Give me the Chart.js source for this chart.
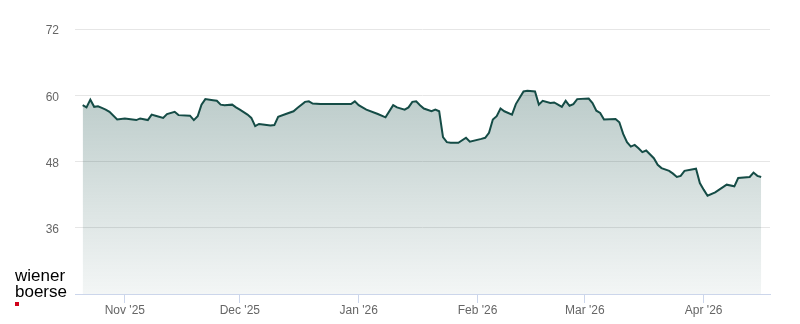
<!DOCTYPE html>
<html>
<head>
<meta charset="utf-8">
<script src="https://cdn.jsdelivr.net/npm/chart.js@4/dist/chart.umd.min.js"></script>
<style>
    body { margin: 0; background: #fff; }
    #wrap { position: relative; width: 800px; height: 324px; }
    #logo { position: absolute; left: 15px; top: 268px; font-family: "Liberation Sans", Arial, sans-serif; font-size: 17px; line-height: 16px; color: #000; }
    #logo .dot { width: 4px; height: 4px; background: #d0021b; margin-top: 2px; }
</style>
</head>
<body>
<div id="wrap">
    <canvas id="kursChart" width="800" height="324"></canvas>
    <div id="logo">wiener<br>boerse<div class="dot"></div></div>
</div>
<script>
// Datenpunkte (Schlusskurse)
const fechas = [
    '2025-10-21','2025-10-22','2025-10-23','2025-10-24','2025-10-25','2025-10-26','2025-10-27','2025-10-28','2025-10-30',
    '2025-11-01','2025-11-02','2025-11-04','2025-11-05','2025-11-07','2025-11-08','2025-11-09','2025-11-11','2025-11-12',
    '2025-11-14','2025-11-15','2025-11-18','2025-11-19','2025-11-20','2025-11-21','2025-11-22','2025-11-24','2025-11-25',
    '2025-11-26','2025-11-27','2025-11-29','2025-11-30',
    '2025-12-01','2025-12-03','2025-12-04','2025-12-05','2025-12-06','2025-12-07','2025-12-09','2025-12-10','2025-12-11',
    '2025-12-13','2025-12-15','2025-12-16','2025-12-18','2025-12-19','2025-12-20','2025-12-22','2025-12-30','2025-12-31',
    '2026-01-01','2026-01-03','2026-01-06','2026-01-08','2026-01-10','2026-01-11','2026-01-13','2026-01-14','2026-01-15',
    '2026-01-16','2026-01-17','2026-01-18','2026-01-20','2026-01-21','2026-01-22','2026-01-23','2026-01-24','2026-01-25',
    '2026-01-27','2026-01-29','2026-01-30',
    '2026-02-02','2026-02-03','2026-02-04','2026-02-05','2026-02-06','2026-02-07','2026-02-08','2026-02-10','2026-02-11',
    '2026-02-13','2026-02-14','2026-02-16','2026-02-17','2026-02-18','2026-02-20','2026-02-21','2026-02-22','2026-02-23',
    '2026-02-24','2026-02-25','2026-02-26','2026-02-27',
    '2026-03-02','2026-03-03','2026-03-04','2026-03-05','2026-03-06','2026-03-09','2026-03-10','2026-03-11','2026-03-12',
    '2026-03-13','2026-03-14','2026-03-15','2026-03-16','2026-03-17','2026-03-19','2026-03-20','2026-03-21','2026-03-23',
    '2026-03-24','2026-03-25','2026-03-26','2026-03-27','2026-03-30','2026-03-31',
    '2026-04-01','2026-04-02','2026-04-04','2026-04-07','2026-04-09','2026-04-10','2026-04-13','2026-04-14','2026-04-15',
    '2026-04-16'
];
const kurse = [
    58.2, 57.8, 59.2, 57.9, 58.0, 57.7, 57.4, 57.0, 55.6,
    55.8, 55.7, 55.5, 55.8, 55.5, 56.5, 56.3, 55.9, 56.6,
    57.0, 56.4, 56.3, 55.5, 56.2, 58.3, 59.3, 59.1, 59.0,
    58.3, 58.2, 58.3, 57.8,
    57.4, 56.5, 55.9, 54.4, 54.8, 54.7, 54.5, 54.6, 56.1,
    56.6, 57.1, 57.7, 58.8, 58.9, 58.5, 58.4, 58.4, 58.9,
    58.2, 57.4, 56.6, 56.0, 58.2, 57.8, 57.4, 57.8, 58.8,
    58.9, 58.2, 57.6, 57.1, 57.4, 57.1, 52.4, 51.5, 51.4,
    51.4, 52.3, 51.6,
    52.1, 52.3, 53.2, 55.6, 56.2, 57.6, 57.1, 56.5, 58.4,
    60.7, 60.8, 60.7, 58.3, 59.0, 58.6, 58.7, 58.3, 57.9,
    59.0, 58.1, 58.4, 59.3,
    59.4, 58.6, 57.2, 56.8, 55.6, 55.7, 55.1, 53.0, 51.5,
    50.7, 51.0, 50.4, 49.7, 50.0, 48.6, 47.4, 46.8, 46.3,
    45.8, 45.2, 45.4, 46.3, 46.7, 44.1,
    42.9, 41.8, 42.4, 43.8, 43.5, 45.0, 45.2, 46.0, 45.4,
    45.2
];

// Achsenbeschriftungen
const mesesFechas = ['2025-11-01', '2025-12-01', '2026-01-01', '2026-02-01', '2026-03-01', '2026-04-01'];
const mesesLabels = ["Nov '25", "Dec '25", "Jan '26", "Feb '26", "Mar '26", "Apr '26"];
const yTicks = [24, 36, 48, 60, 72];

const base = Date.UTC(2025, 10, 1);
const dia = s => {
    const [a, m, d] = s.split('-').map(Number);
    return (Date.UTC(a, m - 1, d) - base) / 86400000;
};
const puntos = fechas.map((f, i) => ({ x: dia(f), y: kurse[i] }));
const ticksMes = mesesFechas.map(dia);

Chart.defaults.font.family = '"Liberation Sans", Arial, sans-serif';
Chart.defaults.font.size = 12;
Chart.defaults.color = '#666666';

const ctx = document.getElementById('kursChart').getContext('2d');
const kursChart = new Chart(ctx, {
    type: 'line',
    data: {
        datasets: [{
            data: puntos,
            borderColor: '#154c46',
            borderWidth: 2,
            pointRadius: 0,
            tension: 0,
            fill: 'start',
            backgroundColor: (c) => {
                const area = c.chart.chartArea;
                if (!area) return 'rgba(21,76,70,0.25)';
                const g = c.chart.ctx.createLinearGradient(0, area.top, 0, area.bottom);
                g.addColorStop(0, 'rgba(21,76,70,0.36)');
                g.addColorStop(1, 'rgba(21,76,70,0.05)');
                return g;
            }
        }]
    },
    options: {
        responsive: false,
        animation: false,
        layout: { padding: { top: 29, right: 30, left: 0, bottom: 0 } },
        plugins: { legend: { display: false }, tooltip: { enabled: false } },
        scales: {
            x: {
                type: 'linear',
                min: -13,
                max: 168.3,
                afterBuildTicks: (s) => { s.ticks = ticksMes.map(v => ({ value: v })); },
                afterFit: (s) => { s.height = 30; },
                ticks: {
                    padding: 0,
                    maxRotation: 0,
                    autoSkip: false,
                    callback: (v) => mesesLabels[ticksMes.indexOf(v)]
                },
                grid: { drawOnChartArea: false, tickLength: 9, color: '#ccd6eb' },
                border: { color: '#ccd6eb' }
            },
            y: {
                min: 24,
                max: 72,
                afterBuildTicks: (s) => { s.ticks = yTicks.map(v => ({ value: v })); },
                afterFit: (s) => { s.width = 75; },
                ticks: {
                    padding: 16,
                    labelOffset: 2,
                    callback: (v) => v === 24 ? '' : v
                },
                grid: {
                    drawTicks: false,
                    color: (c) => c.tick && c.tick.value === 24 ? 'rgba(0,0,0,0)' : '#e6e6e6'
                },
                border: { display: false }
            }
        }
    }
});
</script>
</body>
</html>
